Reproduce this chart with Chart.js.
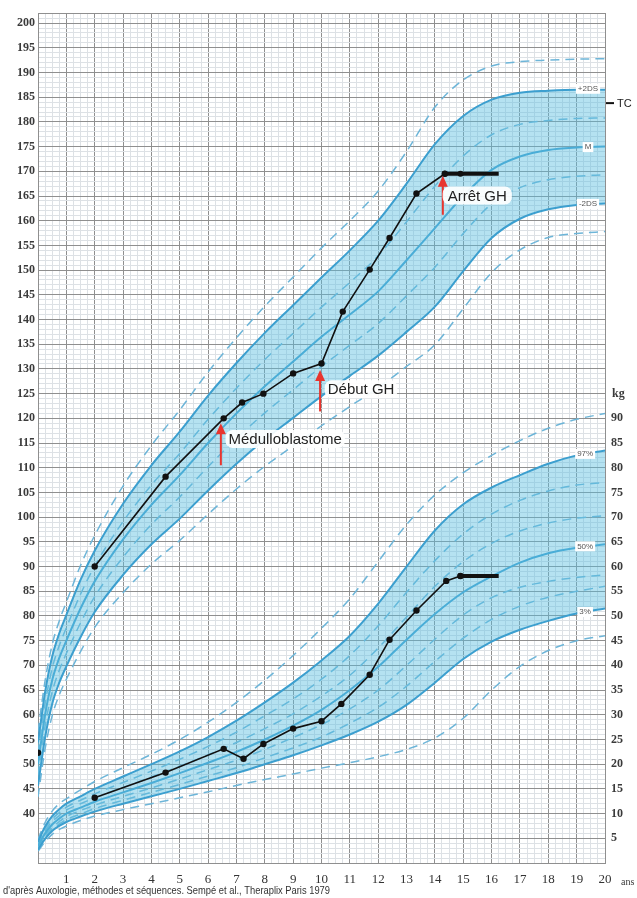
<!DOCTYPE html>
<html>
<head>
<meta charset="utf-8">
<script src="https://cdn.jsdelivr.net/npm/chart.js@4.4.1/dist/chart.umd.min.js"></script>
<style>
html,body{margin:0;padding:0;background:#fff;}
#wrap{position:relative;width:637px;height:898px;}
</style>
</head>
<body>
<div id="wrap"><canvas id="c"></canvas></div>
<script>
// ---------- DATA ----------
// Reference curve ages (years)
const refAges = [0, 0.25, 0.5, 0.75, 1, 1.5, 2, 3, 4, 5, 6, 7, 8, 9, 10, 11, 12, 13, 14, 15, 16, 17, 18, 19, 20];

// Height reference curves (cm), Sempé boys
const hPlus3  = [56.6, 66.9, 74.2, 79.0, 82.8, 90.2, 96.3, 106.3, 114.5, 121.7, 129.4, 136.3, 142.7, 148.6, 154.5, 160.0, 166.0, 174.0, 183.0, 188.5, 191.3, 192.2, 192.5, 192.7, 192.8];
const hPlus2  = [54.4, 64.6, 71.8, 76.5, 80.2, 87.3, 93.2, 102.7, 110.5, 117.3, 124.6, 131.2, 137.3, 142.9, 148.5, 154.0, 160.0, 167.5, 175.5, 181.2, 184.5, 185.9, 186.3, 186.5, 186.5];
const hPlus1  = [52.2, 62.3, 69.4, 74.0, 77.6, 84.4, 90.1, 99.1, 106.5, 112.9, 119.8, 126.1, 131.9, 137.2, 142.5, 147.5, 152.9, 159.8, 167.0, 173.1, 177.4, 179.5, 180.3, 180.7, 180.8];
const hMean   = [50.0, 60.0, 67.0, 71.5, 75.0, 81.5, 87.0, 95.5, 102.5, 108.5, 115.0, 121.0, 126.5, 131.5, 136.5, 141.0, 145.7, 152.0, 158.5, 165.0, 170.3, 173.0, 174.3, 174.8, 175.0];
const hMinus1 = [47.8, 57.7, 64.6, 69.0, 72.4, 78.6, 83.9, 91.9, 98.5, 104.1, 110.2, 115.9, 121.1, 125.8, 130.5, 134.8, 139.2, 144.8, 150.6, 157.4, 163.4, 166.7, 168.3, 169.0, 169.3];
const hMinus2 = [45.6, 55.4, 62.2, 66.5, 69.8, 75.7, 80.8, 88.3, 94.5, 99.7, 105.4, 110.8, 115.7, 120.1, 124.5, 128.6, 132.7, 137.5, 142.6, 149.8, 156.5, 160.4, 162.3, 163.2, 163.5];
const hMinus3 = [43.4, 53.1, 59.8, 64.0, 67.2, 72.8, 77.7, 84.7, 90.5, 95.3, 100.6, 105.7, 110.3, 114.4, 118.5, 122.4, 126.2, 130.5, 134.9, 142.2, 149.5, 154.1, 156.6, 157.4, 157.8];

// Weight reference curves (kg)
const wHigh = [4.8, 8.2, 10.5, 12.0, 13.0, 14.8, 16.5, 19.3, 22.0, 25.0, 28.5, 32.5, 37.0, 42.0, 47.5, 53.5, 61.0, 68.5, 74.5, 79.0, 82.5, 85.5, 88.0, 89.8, 91.0];
const wP97  = [4.3, 7.4, 9.5, 10.9, 12.0, 13.5, 15.0, 17.5, 20.0, 22.6, 25.5, 28.8, 32.5, 36.5, 41.0, 46.0, 52.5, 60.0, 67.3, 72.6, 76.0, 78.5, 80.8, 82.5, 83.5];
const wP90  = [4.0, 7.0, 8.9, 10.2, 11.3, 12.7, 14.0, 16.3, 18.6, 21.0, 23.6, 26.5, 29.8, 33.2, 37.2, 42.0, 48.0, 54.8, 61.2, 66.6, 70.6, 73.4, 75.3, 76.5, 77.0];
const wP75  = [3.7, 6.5, 8.4, 9.6, 10.7, 12.0, 13.2, 15.3, 17.4, 19.6, 21.9, 24.4, 27.2, 30.2, 33.8, 38.0, 43.5, 49.8, 56.0, 61.0, 64.7, 67.2, 68.8, 69.8, 70.3];
const wP50  = [3.4, 6.0, 7.8, 9.0, 10.0, 11.2, 12.4, 14.3, 16.2, 18.2, 20.3, 22.5, 25.0, 27.8, 31.0, 35.0, 39.7, 45.2, 50.4, 54.8, 58.0, 60.8, 62.7, 63.8, 64.5];
const wP25  = [3.1, 5.6, 7.2, 8.4, 9.4, 10.6, 11.7, 13.5, 15.2, 17.0, 18.9, 20.8, 23.0, 25.4, 28.0, 31.2, 35.0, 40.0, 45.3, 50.2, 53.7, 55.8, 57.0, 57.8, 58.3];
const wP10  = [2.9, 5.2, 6.8, 7.9, 8.8, 9.9, 11.0, 12.7, 14.3, 15.9, 17.6, 19.3, 21.3, 23.3, 25.5, 28.3, 31.5, 35.8, 40.8, 45.5, 49.3, 52.0, 53.8, 55.0, 56.0];
const wP3   = [2.7, 4.9, 6.5, 7.5, 8.3, 9.4, 10.4, 12.0, 13.5, 15.0, 16.6, 18.2, 20.0, 21.8, 23.8, 26.0, 28.6, 32.0, 36.5, 41.3, 44.8, 47.2, 49.0, 50.5, 51.5];
const wLow  = [2.4, 4.3, 5.8, 6.8, 7.5, 8.6, 9.5, 10.8, 12.0, 13.2, 14.4, 15.7, 16.9, 18.0, 19.2, 20.3, 21.5, 23.0, 25.3, 29.3, 35.0, 39.8, 43.0, 45.0, 46.0];

// Patient measurements
const birthAge = [0];
const birthHeightCm = [52.3];
const heightAges = [2, 4.5, 6.55, 7.2, 7.95, 9.0, 10.0, 10.75, 11.7, 12.4, 13.35, 14.35, 14.9, 16.25];
const heightCm   = [90, 108.2, 120, 123.2, 125, 129.1, 131.1, 141.6, 150.1, 156.5, 165.5, 169.5, 169.5, 169.5];
const weightAges = [2, 4.5, 6.55, 7.25, 7.95, 9.0, 10.0, 10.7, 11.7, 12.4, 13.35, 14.4, 14.9, 16.25];
const weightKg   = [13.2, 18.3, 23.1, 21.1, 24.1, 27.2, 28.7, 32.2, 38.1, 45.2, 51.1, 57.1, 58.1, 58.1];
const targetHeightCm = 183.8; // TC

// Tick labels
const heightTickLabels = [40,45,50,55,60,65,70,75,80,85,90,95,100,105,110,115,120,125,130,135,140,145,150,155,160,165,170,175,180,185,190,195,200];
const weightTickLabels = [5,10,15,20,25,30,35,40,45,50,55,60,65,70,75,80,85,90];
const ageTickLabels = [1,2,3,4,5,6,7,8,9,10,11,12,13,14,15,16,17,18,19,20];

// ---------- BUILD ----------
const pts = (xs, ys) => xs.map((x, i) => ({x, y: ys[i]}));
const SOLID = '#3c9fcf', DASH = '#6db5d8', BAND = 'rgba(90,190,225,0.45)';

const datasets = [];
function addCurve(ys, axis, solid, label, extra) {
  const ds = Object.assign({
    label, data: pts(refAges, ys), yAxisID: axis,
    borderColor: solid ? SOLID : DASH, borderWidth: solid ? 2 : 1.5,
    borderDash: solid ? [] : [9, 6], pointRadius: 0, fill: false,
    cubicInterpolationMode: 'monotone', order: 5
  }, extra || {});
  datasets.push(ds);
  return datasets.length - 1;
}
// Patient series (on top)
const hThickStart = 11, wThickStart = 12;
const dot = {pointBackgroundColor:'#111', pointBorderColor:'#111', pointBorderWidth:0};
datasets.push(Object.assign({label:'taille', data: pts(heightAges.slice(0, hThickStart + 1), heightCm.slice(0, hThickStart + 1)), yAxisID:'y',
  borderColor:'#111', borderWidth:1.6, pointRadius:3.2, order:0}, dot));
datasets.push(Object.assign({label:'taille GH', data: pts(heightAges.slice(hThickStart), heightCm.slice(hThickStart)), yAxisID:'y',
  borderColor:'#111', borderWidth:4, pointRadius:[3,3,0], order:0}, dot));
datasets.push(Object.assign({label:'naissance', data: pts(birthAge, birthHeightCm), yAxisID:'y', showLine:false,
  pointRadius:3.2, order:0}, dot));
datasets.push(Object.assign({label:'poids', data: pts(weightAges.slice(0, wThickStart + 1), weightKg.slice(0, wThickStart + 1)), yAxisID:'y2',
  borderColor:'#111', borderWidth:1.6, pointRadius:3.2, order:0}, dot));
datasets.push(Object.assign({label:'poids GH', data: pts(weightAges.slice(wThickStart), weightKg.slice(wThickStart)), yAxisID:'y2',
  borderColor:'#111', borderWidth:4, pointRadius:[3,0], order:0}, dot));

// Height curves
const iHm2 = addCurve(hMinus2, 'y', true, '-2DS');
addCurve(hPlus2, 'y', true, '+2DS', {fill: iHm2, backgroundColor: BAND});
addCurve(hMean, 'y', true, 'M');
addCurve(hPlus1, 'y', false, '+1DS');
addCurve(hMinus1, 'y', false, '-1DS');
addCurve(hPlus3, 'y', false, '+3DS');
addCurve(hMinus3, 'y', false, '-3DS');
// Weight curves
const iW3 = addCurve(wP3, 'y2', true, '3%');
addCurve(wP97, 'y2', true, '97%', {fill: iW3, backgroundColor: BAND});
addCurve(wP50, 'y2', true, '50%');
addCurve(wHigh, 'y2', false, 'haut');
addCurve(wP90, 'y2', false, '90%');
addCurve(wP75, 'y2', false, '75%');
addCurve(wP25, 'y2', false, '25%');
addCurve(wP10, 'y2', false, '10%');
addCurve(wLow, 'y2', false, 'bas');

const MAJOR = '#8f8f8f', MINOR = '#dde1e5';
const tickFont = {family:'Liberation Serif', size:12, weight:'bold'};

function labelBox(ctx, text, x, y, font, pad) {
  ctx.font = font;
  const w = ctx.measureText(text).width;
  ctx.fillStyle = 'rgba(255,255,255,0.92)';
  ctx.beginPath();
  ctx.roundRect(x - pad, y - 9, w + 2 * pad, 18, 7);
  ctx.fill();
  ctx.fillStyle = '#222';
  ctx.textAlign = 'left'; ctx.textBaseline = 'middle';
  ctx.fillText(text, x, y + 1);
}
function arrow(ctx, x, yBase, yTip) {
  ctx.save();
  ctx.strokeStyle = '#e8352f'; ctx.fillStyle = '#e8352f'; ctx.lineWidth = 2;
  ctx.beginPath(); ctx.moveTo(x, yBase); ctx.lineTo(x, yTip + 8); ctx.stroke();
  ctx.beginPath(); ctx.moveTo(x, yTip); ctx.lineTo(x - 5, yTip + 11); ctx.lineTo(x + 5, yTip + 11); ctx.closePath(); ctx.fill();
  ctx.restore();
}
function smallTag(ctx, text, cx, cy) {
  ctx.font = '8px "Liberation Sans"';
  const w = ctx.measureText(text).width;
  ctx.fillStyle = '#fff';
  ctx.fillRect(cx - w / 2 - 2, cy - 5, w + 4, 10);
  ctx.fillStyle = '#555'; ctx.textAlign = 'center'; ctx.textBaseline = 'middle';
  ctx.fillText(text, cx, cy);
}

const annot = {
  id: 'annot',
  afterDatasetsDraw(chart) {
    const {ctx, scales: {x, y, y2}} = chart;
    ctx.save();
    const li = refAges.length - 2; // age 19
    smallTag(ctx, '+2DS', x.getPixelForValue(19.4), y.getPixelForValue(hPlus2[li] + 0.2));
    smallTag(ctx, 'M', x.getPixelForValue(19.4), y.getPixelForValue(hMean[li] + 0.1));
    smallTag(ctx, '-2DS', x.getPixelForValue(19.4), y.getPixelForValue(hMinus2[li] + 0.2));
    smallTag(ctx, '97%', x.getPixelForValue(19.3), y2.getPixelForValue(wP97[li] + 0.3));
    smallTag(ctx, '50%', x.getPixelForValue(19.3), y2.getPixelForValue(wP50[li] + 0.3));
    smallTag(ctx, '3%', x.getPixelForValue(19.3), y2.getPixelForValue(wP3[li] + 0.3));
    const f = '15px "Liberation Sans"';
    arrow(ctx, x.getPixelForValue(6.45), y.getPixelForValue(110.5), y.getPixelForValue(119));
    labelBox(ctx, 'Médulloblastome', x.getPixelForValue(6.72), y.getPixelForValue(115.8), f, 3);
    arrow(ctx, x.getPixelForValue(9.95), y.getPixelForValue(121.4), y.getPixelForValue(129.8));
    labelBox(ctx, 'Début GH', x.getPixelForValue(10.22), y.getPixelForValue(125.9), f, 3);
    arrow(ctx, x.getPixelForValue(14.28), y.getPixelForValue(161.2), y.getPixelForValue(169.1));
    labelBox(ctx, 'Arrêt GH', x.getPixelForValue(14.45), y.getPixelForValue(165.1), f, 5);
    ctx.restore();
  },
  afterDraw(chart) {
    const {ctx, chartArea: a, scales: {y, y2}} = chart;
    ctx.save();
    const ty = y.getPixelForValue(targetHeightCm);
    ctx.strokeStyle = '#111'; ctx.lineWidth = 2;
    ctx.beginPath(); ctx.moveTo(a.right + 1, ty); ctx.lineTo(a.right + 9, ty); ctx.stroke();
    ctx.fillStyle = '#222'; ctx.font = '11px "Liberation Sans"'; ctx.textAlign = 'left'; ctx.textBaseline = 'middle';
    ctx.fillText('TC', a.right + 12, ty + 1);
    ctx.font = 'bold 12px "Liberation Serif"'; ctx.fillStyle = '#3a3a3a';
    ctx.fillText('kg', a.right + 7, y2.getPixelForValue(95));
    ctx.font = '10px "Liberation Serif"';
    ctx.fillText('ans', a.right + 16, a.bottom + 19);
    ctx.font = '11px "Liberation Sans"'; ctx.fillStyle = '#333';
    ctx.fillText("d'après Auxologie, méthodes et séquences. Sempé et al., Theraplix Paris 1979", 3, 891, 327);
    ctx.restore();
  }
};

new Chart(document.getElementById('c'), {
  type: 'line',
  data: {datasets},
  options: {
    responsive: true, maintainAspectRatio: false, animation: false,
    layout: {padding: {top: 12, left: 0, right: 0, bottom: 0}},
    plugins: {legend: {display: false}, tooltip: {enabled: false}},
    scales: {
      x: {
        type: 'linear', min: 0, max: 20,
        afterFit: s => { s.height = 35; },
        border: {display: true, color: MAJOR},
        grid: {drawTicks: false, color: c => Number.isInteger(c.tick.value) ? MAJOR : MINOR, lineWidth: 1},
        ticks: {stepSize: 0.25, autoSkip: false, maxRotation: 0, padding: 9, color: '#333',
          font: {family:'Liberation Serif', size:13},
          callback: v => ageTickLabels.includes(v) ? String(v) : ''}
      },
      y: {
        type: 'linear', position: 'left', min: 30, max: 202,
        afterFit: s => { s.width = 38; },
        border: {display: true, color: MAJOR},
        grid: {drawTicks: false, color: c => (c.tick.value % 5 === 0 || c.tick.value === 202) ? MAJOR : MINOR, lineWidth: 1},
        ticks: {stepSize: 1, autoSkip: false, padding: 3, color: '#3a3a3a', font: tickFont,
          callback: v => heightTickLabels.includes(v) ? String(v) : ''}
      },
      y2: {
        type: 'linear', position: 'right', min: 0, max: 172,
        afterFit: s => { s.width = 32; },
        border: {display: true, color: MAJOR},
        grid: {display: false, drawTicks: false},
        ticks: {stepSize: 5, autoSkip: false, padding: 6, color: '#3a3a3a', font: tickFont,
          callback: v => weightTickLabels.includes(v) ? String(v) : ''}
      }
    }
  },
  plugins: [annot]
});
</script>
</body>
</html>
